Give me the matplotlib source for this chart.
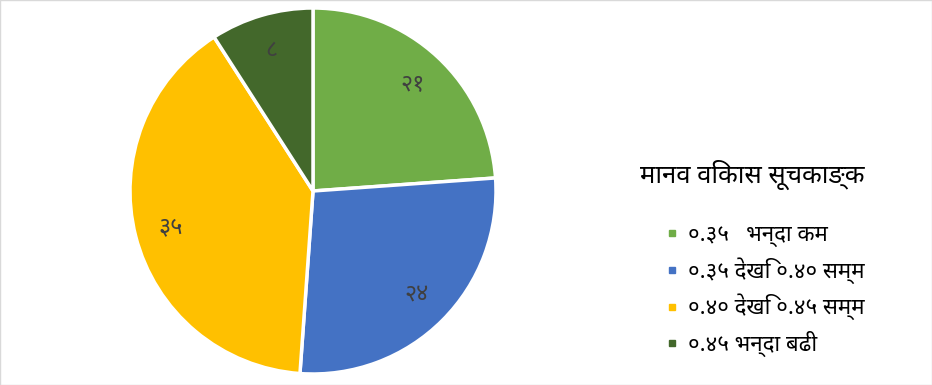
import matplotlib
matplotlib.use("Agg")
import matplotlib.pyplot as plt
from matplotlib import font_manager as fm
from matplotlib.lines import Line2D

# ---- data ----
categories = ["०.३५   भन्दा कम", "०.३५ देखि ०.४० सम्म", "०.४० देखि ०.४५ सम्म", "०.४५ भन्दा बढी"]
values = [21, 24, 35, 8]
value_labels = ["२१", "२४", "३५", "८"]
legend_title = "मानव विकास सूचकाङ्क"
colors = ["#70AD47", "#4472C4", "#FFC000", "#43682B"]

available = set(e.name for e in fm.fontManager.ttflist)
deva = [f for f in ["Noto Sans Devanagari", "Noto Sans Devanagari UI", "Hind", "Mukta", "Kalam"] if f in available]
families = deva[:1] + ["DejaVu Sans"]
plt.rcParams['font.family'] = families

W, H = 932, 385
fig = plt.figure(figsize=(W / 100, H / 100), dpi=100)
cx, cy, R = 313, 191, 183
ax = fig.add_axes([(cx - R) / W, (H - cy - R) / H, 2 * R / W, 2 * R / H])

wedges, texts = ax.pie(values, colors=colors, startangle=90, counterclock=False,
                       labels=value_labels, labeldistance=0.8,
                       wedgeprops=dict(edgecolor="white", linewidth=2.5),
                       textprops=dict(color="#404040", fontsize=17))
for t in texts:
    t.set_horizontalalignment("center")
    t.set_verticalalignment("center")
ax.set_xlim(-1, 1)
ax.set_ylim(-1, 1)
ax.set_aspect("equal")

fig.text(640 / W, 1 - 175 / H, legend_title, fontsize=18.5, color="#000000",
         ha="left", va="center")

handles = [Line2D([], [], linestyle="none", marker="s", markersize=5,
                  markerfacecolor=c, markeredgecolor=c) for c in colors]
leg = fig.legend(handles, categories, loc="upper left",
                 bbox_to_anchor=(658 / W, 1 - 216 / H), frameon=False,
                 fontsize=16, handlelength=0.5, handletextpad=0.45,
                 labelspacing=0.45, borderaxespad=0)
for t in leg.get_texts():
    t.set_color("#000000")

fig.patches.append(plt.Rectangle((0, 0), 1, 1, transform=fig.transFigure,
                                 fill=False, edgecolor="#D9D9D9", linewidth=1))
fig.savefig("out.png", dpi=100)
